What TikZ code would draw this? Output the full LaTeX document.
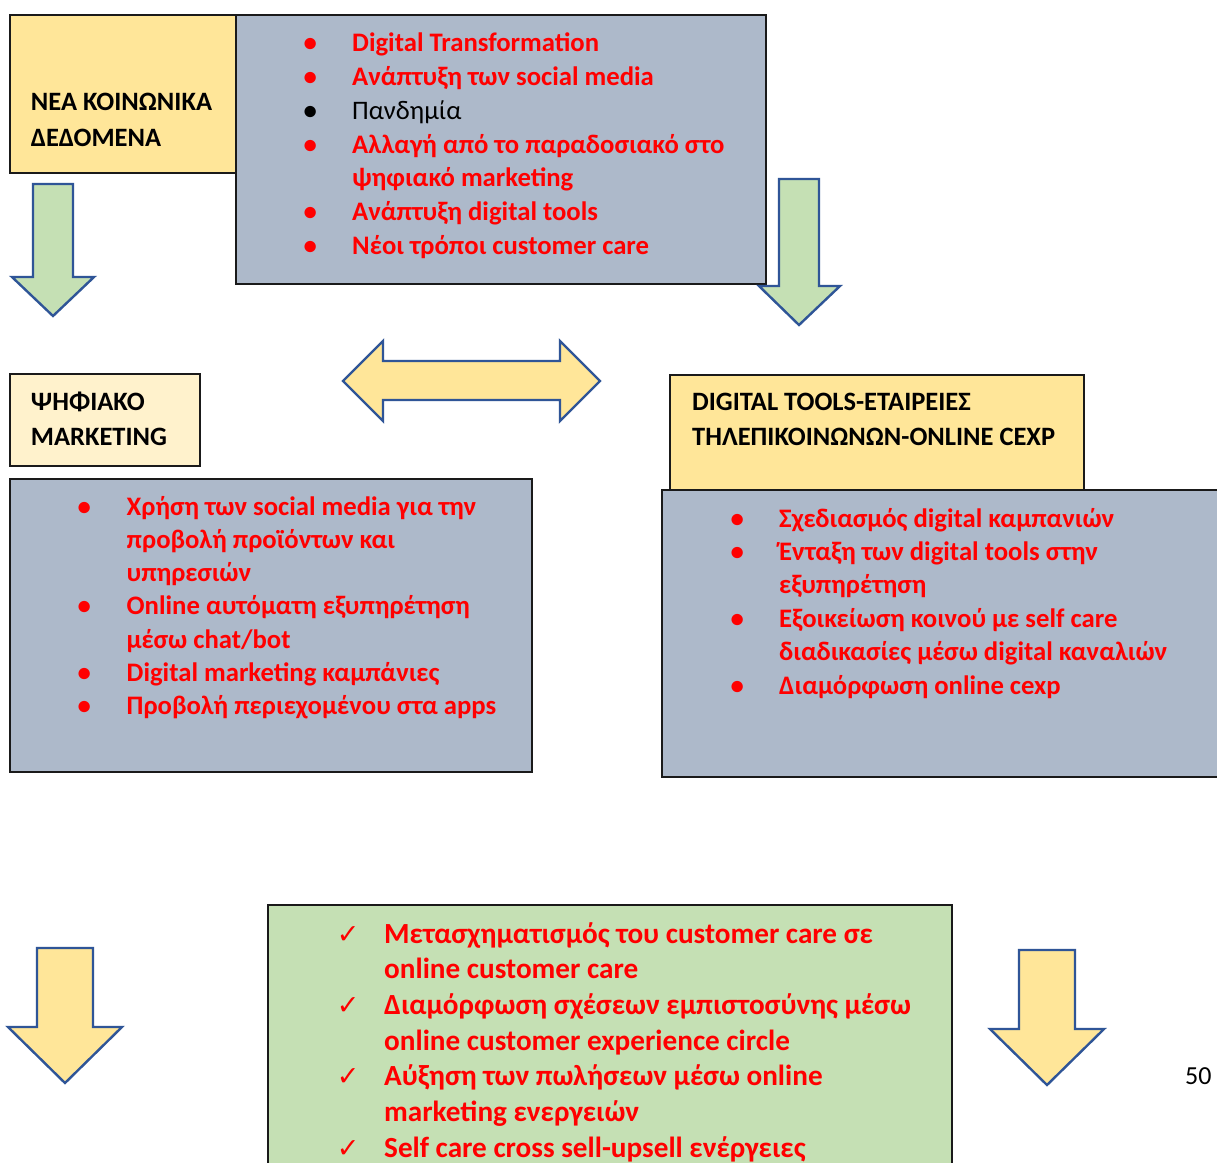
\documentclass[tikz,border=0pt]{standalone}
\usepackage{fontspec}
\setmainfont{Carlito}
\newfontfamily\symfont{DejaVu Sans}
\definecolor{boxyellow}{HTML}{FFE699}
\definecolor{boxcream}{HTML}{FFF2CC}
\definecolor{boxgrey}{HTML}{ADB9CA}
\definecolor{boxgreen}{HTML}{C5E0B4}
\definecolor{arrowblue}{HTML}{2F5597}
\definecolor{txtred}{HTML}{FF0000}
\definecolor{edge}{HTML}{1A1A1A}
\newcommand{\bl}{\makebox[0pt]{\textbullet}}
\newcommand{\ck}{\makebox[0pt]{\symfont\mdseries\fontsize{27}{27}\selectfont ✓}}
\begin{document}
\begin{tikzpicture}[x=1pt,y=-1pt,
  panel/.style={draw=edge,line width=1.3pt},
  blockarrow/.style={draw=arrowblue,line width=2.4pt,line join=miter},
  heading/.style={anchor=base west,inner sep=0pt,font=\bfseries\fontsize{26.5}{35.5}\selectfont},
  listtext/.style={anchor=base west,inner sep=0pt,text=txtred,font=\bfseries}
]
\useasboundingbox (0,0) rectangle (1217,1162);
\clip (0,0) rectangle (1217,1162);
\fill[white] (0,0) rectangle (1217,1162);

% box A and B
\filldraw[panel,fill=boxyellow] (10,15) rectangle (236,173);
\filldraw[panel,fill=boxgrey] (236,15) rectangle (766,284);
\node[heading] (hA) at (30.7,110.7) {\begin{tabular}[t]{@{}l@{}}ΝΕΑ ΚΟΙΝΩΝΙΚΑ\\ΔΕΔΟΜΕΝΑ\end{tabular}};
\node[listtext] (lB) at (310,51.7) {\fontsize{26.7}{33.8}\selectfont
\begin{tabular}[t]{@{}c@{\hspace{42pt}}l@{}}
\bl & Digital Transformation\\
\bl & Ανάπτυξη των social media\\
\color{black}\bl & \color{black}\mdseries Πανδημία\\
\bl & Αλλαγή από το παραδοσιακό στο\\
 & ψηφιακό marketing\\
\bl & Ανάπτυξη digital tools\\
\bl & Νέοι τρόποι customer care
\end{tabular}};

% green arrows
\filldraw[blockarrow,fill=boxgreen] (33,184) -- (73,184) -- (73,277) -- (94,277) -- (53,316) -- (12,277) -- (33,277) -- cycle;
\filldraw[blockarrow,fill=boxgreen] (779,179) -- (819,179) -- (819,286) -- (840,286) -- (799,325) -- (759,286) -- (779,286) -- cycle;

% double arrow
\filldraw[blockarrow,fill=boxyellow] (343,381) -- (383,341) -- (383,361) -- (560,361) -- (560,341) -- (600,381) -- (560,421) -- (560,400) -- (383,400) -- (383,421) -- cycle;

% box C and D
\filldraw[panel,fill=boxcream] (10,374) rectangle (200,466);
\node[heading] (hC) at (30.7,410) {\begin{tabular}[t]{@{}l@{}}ΨΗΦΙΑΚΟ\\MARKETING\end{tabular}};
\filldraw[panel,fill=boxgrey] (10,479) rectangle (532,772);
\node[listtext] (lD) at (84,515) {\fontsize{26.7}{33.3}\selectfont
\begin{tabular}[t]{@{}c@{\hspace{42.5pt}}l@{}}
\bl & Χρήση των social media για την\\
 & προβολή προϊόντων και\\
 & υπηρεσιών\\
\bl & Online αυτόματη εξυπηρέτηση\\
 & μέσω chat/bot\\
\bl & Digital marketing καμπάνιες\\
\bl & Προβολή περιεχομένου στα apps
\end{tabular}};

% box E and F
\filldraw[panel,fill=boxyellow] (670,375) rectangle (1084,490);
\node[heading] (hE) at (692,410) {\begin{tabular}[t]{@{}l@{}}DIGITAL TOOLS-ΕΤΑΙΡΕΙΕΣ\\ΤΗΛΕΠΙΚΟΙΝΩΝΩΝ-ONLINE CEXP\end{tabular}};
\filldraw[panel,fill=boxgrey] (662,490) rectangle (1230,777);
\node[listtext] (lF) at (737,527) {\fontsize{26.7}{33.4}\selectfont
\begin{tabular}[t]{@{}c@{\hspace{42pt}}l@{}}
\bl & Σχεδιασμός digital καμπανιών\\
\bl & Ένταξη των digital tools στην\\
 & εξυπηρέτηση\\
\bl & Εξοικείωση κοινού με self care\\
 & διαδικασίες μέσω digital καναλιών\\
\bl & Διαμόρφωση online cexp
\end{tabular}};

% yellow down arrows
\filldraw[blockarrow,fill=boxyellow] (37,948) -- (93,948) -- (93,1027) -- (122,1027) -- (65,1083) -- (8,1027) -- (37,1027) -- cycle;
\filldraw[blockarrow,fill=boxyellow] (1019,950) -- (1075,950) -- (1075,1029) -- (1104,1029) -- (1047,1085) -- (990,1029) -- (1019,1029) -- cycle;

% box G
\filldraw[panel,fill=boxgreen] (268,905) rectangle (952,1175);
\node[listtext] (lG) at (348,943) {\fontsize{29.2}{35.7}\selectfont
\begin{tabular}[t]{@{}c@{\hspace{36pt}}l@{}}
\ck & Μετασχηματισμός του customer care σε\\
 & online customer care\\
\ck & Διαμόρφωση σχέσεων εμπιστοσύνης μέσω\\
 & online customer experience circle\\
\ck & Αύξηση των πωλήσεων μέσω online\\
 & marketing ενεργειών\\
\ck & Self care cross sell-upsell ενέργειες
\end{tabular}};

% page number
\node[anchor=base west,inner sep=0pt,font=\fontsize{26}{30}\selectfont] (pg) at (1185,1084) {50};
\end{tikzpicture}
\end{document}
